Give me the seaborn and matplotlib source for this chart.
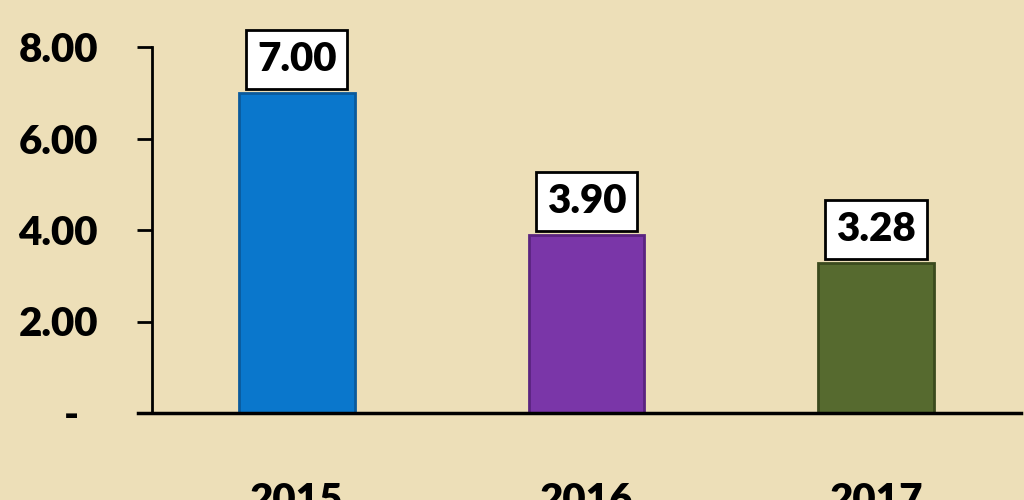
import matplotlib
matplotlib.use("Agg")
import matplotlib.pyplot as plt
import seaborn as sns
import pandas as pd

# values
years = ["2015", "2016", "2017"]
values = [7.00, 3.90, 3.28]
bar_colors = ["#0A77CC", "#7A36A8", "#566A2F"]
edge_colors = ["#0A5A9C", "#5A2480", "#3B4A1E"]
yticks = [0, 2, 4, 6, 8]
ytick_labels = ["-  ", "2.00", "4.00", "6.00", "8.00"]

df = pd.DataFrame({"year": years, "value": values})

sns.set_theme(style="white")
plt.rcParams["font.family"] = ["Lato", "DejaVu Sans"]
plt.rcParams["text.color"] = "black"
plt.rcParams["xtick.color"] = "black"
plt.rcParams["ytick.color"] = "black"

bg = "#EDDFB8"
fig = plt.figure(figsize=(10.24, 5), dpi=100, facecolor=bg)
ax = fig.add_axes([152 / 1024, 1 - 413 / 500, (1021 - 152) / 1024, (413 - 47) / 500])
ax.set_facecolor(bg)

sns.barplot(data=df, x="year", y="value", hue="year", palette=bar_colors,
            width=0.4, legend=False, ax=ax, saturation=1)
for patch, ec in zip(ax.patches, edge_colors):
    patch.set_edgecolor(ec)
    patch.set_linewidth(2)

ax.set_xlim(-0.5, 2.5)
ax.set_ylim(0, 8)
ax.set_yticks(yticks)
ax.set_yticklabels(ytick_labels, fontsize=29, fontweight="heavy", color="black")
ax.tick_params(axis="y", direction="out", length=11, width=2, color="black",
               left=True, pad=28)
ax.tick_params(axis="x", length=0, pad=50, labelsize=29, labelcolor="black")
for lab in ax.get_xticklabels():
    lab.set_fontweight("heavy")
ax.set_xlabel("")
ax.set_ylabel("")

sns.despine(ax=ax, top=True, right=True)
ax.spines["left"].set_color("black")
ax.spines["left"].set_linewidth(2)
ax.spines["bottom"].set_color("black")
ax.spines["bottom"].set_linewidth(2.5)
ax.spines["bottom"].set_bounds(-0.55, 2.5)
ax.spines["bottom"].set_clip_on(False)

for i, v in enumerate(values):
    ax.annotate(f"{v:.2f}", xy=(i, v), xytext=(0, 24), textcoords="offset points",
                ha="center", va="center", fontsize=29, fontweight="heavy", color="black",
                bbox=dict(boxstyle="square,pad=0.27", facecolor="white",
                          edgecolor="black", linewidth=2))

fig.savefig("out.png", dpi=100, facecolor=bg)
